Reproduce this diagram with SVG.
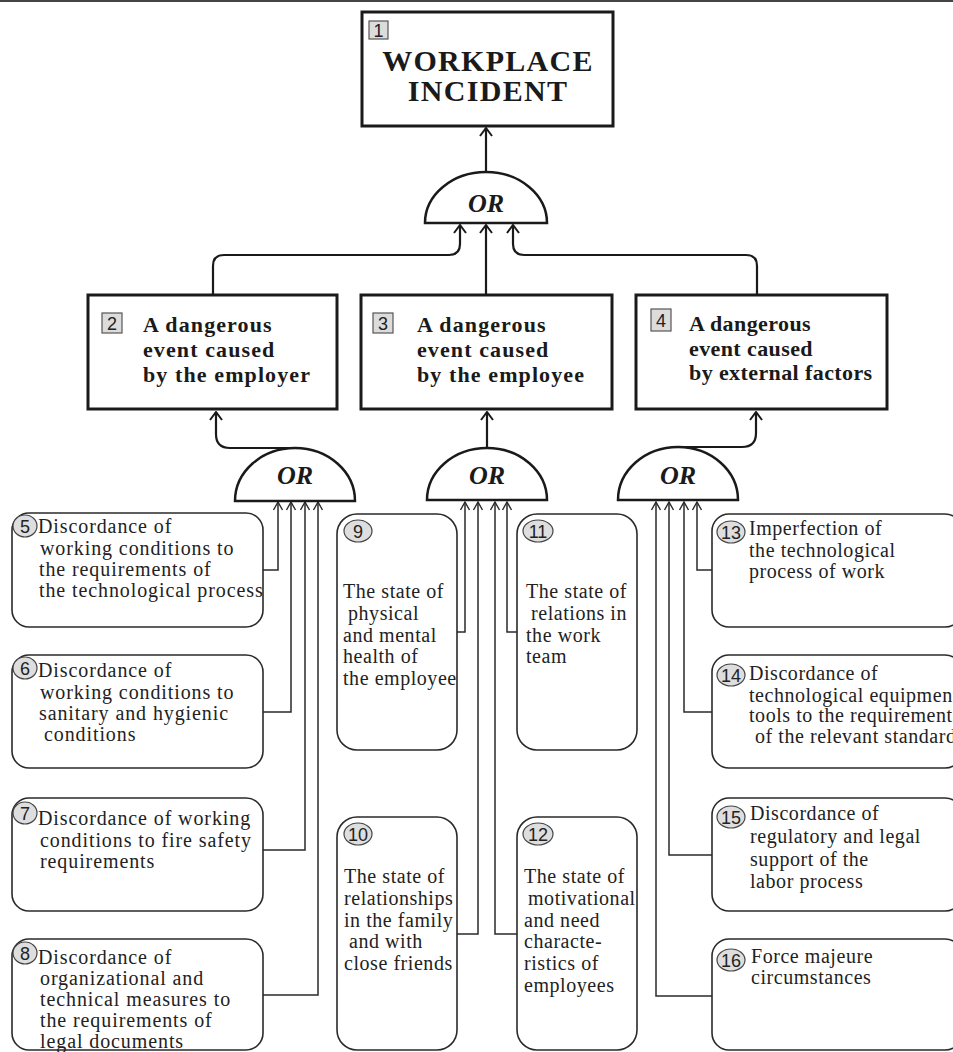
<svg xmlns="http://www.w3.org/2000/svg" width="953" height="1052" viewBox="0 0 953 1052">
<style>
.main{fill:#fff;stroke:#1a1a1a;stroke-width:3}
.leaf{fill:#fff;stroke:#2a2a2a;stroke-width:1.6}
.gate{fill:#fff;stroke:#1a1a1a;stroke-width:2.5}
.nbox{fill:#dcdcdc;stroke:#555;stroke-width:1.2}
.ncirc{fill:#dedede;stroke:#444;stroke-width:1.2}
.num{font-family:"Liberation Sans",Arial,sans-serif;font-size:18px;fill:#222}
.title{font-family:"Liberation Serif","Times New Roman",serif;font-weight:bold;font-size:30px;fill:#1a1a1a;letter-spacing:1.3px}
.bt{font-family:"Liberation Serif","Times New Roman",serif;font-weight:bold;font-size:22px;fill:#1a1a1a;letter-spacing:1.1px}
.bn{letter-spacing:0.4px}
.or{font-family:"Liberation Serif","Times New Roman",serif;font-weight:bold;font-style:italic;font-size:26px;fill:#1a1a1a}
.lt{font-family:"Liberation Serif","Times New Roman",serif;font-size:20px;fill:#222;letter-spacing:0.55px}
.lw{letter-spacing:0.9px}
.c1{fill:none;stroke:#1a1a1a;stroke-width:2.2;marker-end:url(#ah1)}
.c2{fill:none;stroke:#2a2a2a;stroke-width:1.5;marker-end:url(#ah2)}
</style>
<defs>
<marker id="ah1" viewBox="-1 -7 11 14" refX="9" refY="0" markerWidth="11" markerHeight="14" markerUnits="userSpaceOnUse" orient="auto">
<path d="M1,-6 L9,0 L1,6" fill="none" stroke="#1a1a1a" stroke-width="2"/>
</marker>
<marker id="ah2" viewBox="-1 -6 10 12" refX="8" refY="0" markerWidth="10" markerHeight="12" markerUnits="userSpaceOnUse" orient="auto">
<path d="M0,-4.5 L8,0 L0,4.5" fill="none" stroke="#2a2a2a" stroke-width="1.4"/>
</marker>
</defs>
<rect width="953" height="1052" fill="#fff"/>
<line x1="0" y1="1" x2="953" y2="1" stroke="#444" stroke-width="2"/>

<g id="connectors">
<path class="c1" d="M486,172 L486,128"/>
<path class="c1" d="M213,295 L213,266 Q213,255 224,255 L449,255 Q460,255 460,244 L460,225"/>
<path class="c1" d="M486,295 L486,225"/>
<path class="c1" d="M757,295 L757,266 Q757,255 746,255 L524,255 Q513,255 513,244 L513,225"/>
<path class="c1" d="M295,448 L230,448 Q216,448 216,434 L216,412"/>
<path class="c1" d="M487,448 L487,412"/>
<path class="c1" d="M679,447 L742,447 Q756,447 756,433 L756,412"/>
<path class="c2" d="M263,570 L278,570 L278,502"/>
<path class="c2" d="M263,712 L291,712 L291,502"/>
<path class="c2" d="M263,850 L305,850 L305,502"/>
<path class="c2" d="M263,995 L318,995 L318,502"/>
<path class="c2" d="M457,632 L465,632 L465,502"/>
<path class="c2" d="M457,934 L478,934 L478,502"/>
<path class="c2" d="M517,934 L495,934 L495,502"/>
<path class="c2" d="M517,632 L507,632 L507,502"/>
<path class="c2" d="M712,570 L697,570 L697,502"/>
<path class="c2" d="M712,712 L684,712 L684,502"/>
<path class="c2" d="M712,855 L669,855 L669,502"/>
<path class="c2" d="M712,996 L656,996 L656,502"/>
</g>

<g id="gate-top">
<path class="gate" d="M425,223 A61,51 0 0 1 547,223 Z"/>
<text class="or" x="486" y="212" text-anchor="middle">OR</text>
</g>
<g id="gate-2">
<path class="gate" d="M235,501 A60,53 0 0 1 355,501 Z"/>
<text class="or" x="295" y="484" text-anchor="middle">OR</text>
</g>
<g id="gate-3">
<path class="gate" d="M427,500 A60,52 0 0 1 547,500 Z"/>
<text class="or" x="487" y="484" text-anchor="middle">OR</text>
</g>
<g id="gate-4">
<path class="gate" d="M618,500 A60,53 0 0 1 738,500 Z"/>
<text class="or" x="678" y="484" text-anchor="middle">OR</text>
</g>

<g id="node1">
<rect class="main" x="362" y="12" width="251" height="114"/>
<rect class="nbox" x="369" y="21" width="19" height="18"/>
<text class="num" x="378.5" y="36.5" text-anchor="middle">1</text>
<text class="title" x="488" y="71" text-anchor="middle">WORKPLACE</text>
<text class="title" x="488" y="101" text-anchor="middle">INCIDENT</text>
</g>
<g id="node2">
<rect class="main" x="88" y="295" width="249" height="114"/>
<rect class="nbox" x="102" y="313" width="20" height="20"/>
<text class="num" x="112" y="329.5" text-anchor="middle">2</text>
<text class="bt" x="143" y="332">A dangerous</text>
<text class="bt" x="143" y="357">event caused</text>
<text class="bt" x="143" y="382">by the employer</text>
</g>
<g id="node3">
<rect class="main" x="361" y="295" width="251" height="114"/>
<rect class="nbox" x="373" y="313" width="20" height="20"/>
<text class="num" x="383" y="329.5" text-anchor="middle">3</text>
<text class="bt" x="417" y="332">A dangerous</text>
<text class="bt" x="417" y="357">event caused</text>
<text class="bt" x="417" y="382">by the employee</text>
</g>
<g id="node4">
<rect class="main" x="636" y="295" width="251" height="114"/>
<rect class="nbox" x="651" y="309" width="20" height="22"/>
<text class="num" x="661" y="326.5" text-anchor="middle">4</text>
<text class="bt bn" x="689" y="331">A dangerous</text>
<text class="bt bn" x="689" y="356">event caused</text>
<text class="bt bn" x="689" y="380">by external factors</text>
</g>

<g id="node5">
<rect class="leaf" x="12" y="513" width="251" height="114" rx="17"/>
<ellipse class="ncirc" cx="25" cy="526" rx="12" ry="11"/>
<text class="num" x="25" y="532.5" text-anchor="middle">5</text>
<text class="lt lw" x="38" y="533">Discordance of</text>
<text class="lt lw" x="40" y="555">working conditions to</text>
<text class="lt lw" x="39" y="576">the requirements of</text>
<text class="lt lw" x="39" y="597">the technological process</text>
</g>
<g id="node6">
<rect class="leaf" x="12" y="655" width="251" height="113" rx="17"/>
<ellipse class="ncirc" cx="25" cy="668" rx="12" ry="11"/>
<text class="num" x="25" y="674.5" text-anchor="middle">6</text>
<text class="lt lw" x="38" y="677">Discordance of</text>
<text class="lt lw" x="40" y="699">working conditions to</text>
<text class="lt lw" x="39" y="720">sanitary and hygienic</text>
<text class="lt lw" x="44" y="741">conditions</text>
</g>
<g id="node7">
<rect class="leaf" x="12" y="798" width="251" height="113" rx="17"/>
<ellipse class="ncirc" cx="25" cy="813" rx="12" ry="11"/>
<text class="num" x="25" y="819.5" text-anchor="middle">7</text>
<text class="lt lw" x="38" y="825">Discordance of working</text>
<text class="lt lw" x="40" y="847">conditions to fire safety</text>
<text class="lt lw" x="40" y="868">requirements</text>
</g>
<g id="node8">
<rect class="leaf" x="12" y="939" width="251" height="111" rx="17"/>
<ellipse class="ncirc" cx="25" cy="953" rx="12" ry="11"/>
<text class="num" x="25" y="959.5" text-anchor="middle">8</text>
<text class="lt lw" x="38" y="964">Discordance of</text>
<text class="lt lw" x="40" y="985">organizational and</text>
<text class="lt lw" x="40" y="1006">technical measures to</text>
<text class="lt lw" x="40" y="1027">the requirements of</text>
<text class="lt lw" x="40" y="1048">legal documents</text>
</g>

<g id="node9">
<rect class="leaf" x="337" y="514" width="120" height="236" rx="20"/>
<ellipse class="ncirc" cx="358" cy="531" rx="14" ry="11"/>
<text class="num" x="358" y="537.5" text-anchor="middle">9</text>
<text class="lt" x="343" y="598">The state of</text>
<text class="lt" x="348" y="620">physical</text>
<text class="lt" x="343" y="642">and mental</text>
<text class="lt" x="343" y="663">health of</text>
<text class="lt" x="343" y="685">the employee</text>
</g>
<g id="node10">
<rect class="leaf" x="337" y="817" width="120" height="233" rx="20"/>
<ellipse class="ncirc" cx="358" cy="834" rx="14" ry="11"/>
<text class="num" x="358" y="840.5" text-anchor="middle">10</text>
<text class="lt" x="344" y="883">The state of</text>
<text class="lt" x="344" y="905">relationships</text>
<text class="lt" x="344" y="927">in the family</text>
<text class="lt" x="349" y="948">and  with</text>
<text class="lt" x="344" y="970">close friends</text>
</g>
<g id="node11">
<rect class="leaf" x="517" y="514" width="120" height="236" rx="20"/>
<ellipse class="ncirc" cx="538" cy="531" rx="15" ry="11"/>
<text class="num" x="538" y="537.5" text-anchor="middle">11</text>
<text class="lt" x="526" y="598">The state of</text>
<text class="lt" x="531" y="620">relations in</text>
<text class="lt" x="526" y="642">the work</text>
<text class="lt" x="526" y="663">team</text>
</g>
<g id="node12">
<rect class="leaf" x="517" y="817" width="120" height="233" rx="20"/>
<ellipse class="ncirc" cx="538" cy="834" rx="15" ry="11"/>
<text class="num" x="538" y="840.5" text-anchor="middle">12</text>
<text class="lt" x="524" y="883">The state of</text>
<text class="lt" x="528" y="905">motivational</text>
<text class="lt" x="524" y="927">and need</text>
<text class="lt" x="524" y="948">characte-</text>
<text class="lt" x="524" y="970">ristics of</text>
<text class="lt" x="524" y="992">employees</text>
</g>

<g id="node13">
<rect class="leaf" x="712" y="514" width="250" height="113" rx="17"/>
<ellipse class="ncirc" cx="731" cy="532" rx="14" ry="11"/>
<text class="num" x="731" y="538.5" text-anchor="middle">13</text>
<text class="lt" x="749" y="535">Imperfection of</text>
<text class="lt" x="749" y="557">the technological</text>
<text class="lt" x="749" y="578">process of work</text>
</g>
<g id="node14">
<rect class="leaf" x="712" y="655" width="250" height="113" rx="17"/>
<ellipse class="ncirc" cx="731" cy="675" rx="14" ry="11"/>
<text class="num" x="731" y="681.5" text-anchor="middle">14</text>
<text class="lt" x="749" y="680">Discordance of</text>
<text class="lt" x="749" y="702">technological equipment,</text>
<text class="lt" x="749" y="722">tools to the requirements</text>
<text class="lt" x="755" y="743">of the relevant standard</text>
</g>
<g id="node15">
<rect class="leaf" x="712" y="798" width="250" height="113" rx="17"/>
<ellipse class="ncirc" cx="731" cy="817" rx="14" ry="11"/>
<text class="num" x="731" y="823.5" text-anchor="middle">15</text>
<text class="lt" x="750" y="820">Discordance of</text>
<text class="lt" x="750" y="843">regulatory and legal</text>
<text class="lt" x="750" y="866">support of the</text>
<text class="lt" x="750" y="888">labor process</text>
</g>
<g id="node16">
<rect class="leaf" x="712" y="939" width="250" height="111" rx="17"/>
<ellipse class="ncirc" cx="731" cy="960" rx="14" ry="11"/>
<text class="num" x="731" y="966.5" text-anchor="middle">16</text>
<text class="lt" x="751" y="963">Force majeure</text>
<text class="lt" x="751" y="984">circumstances</text>
</g>
</svg>
